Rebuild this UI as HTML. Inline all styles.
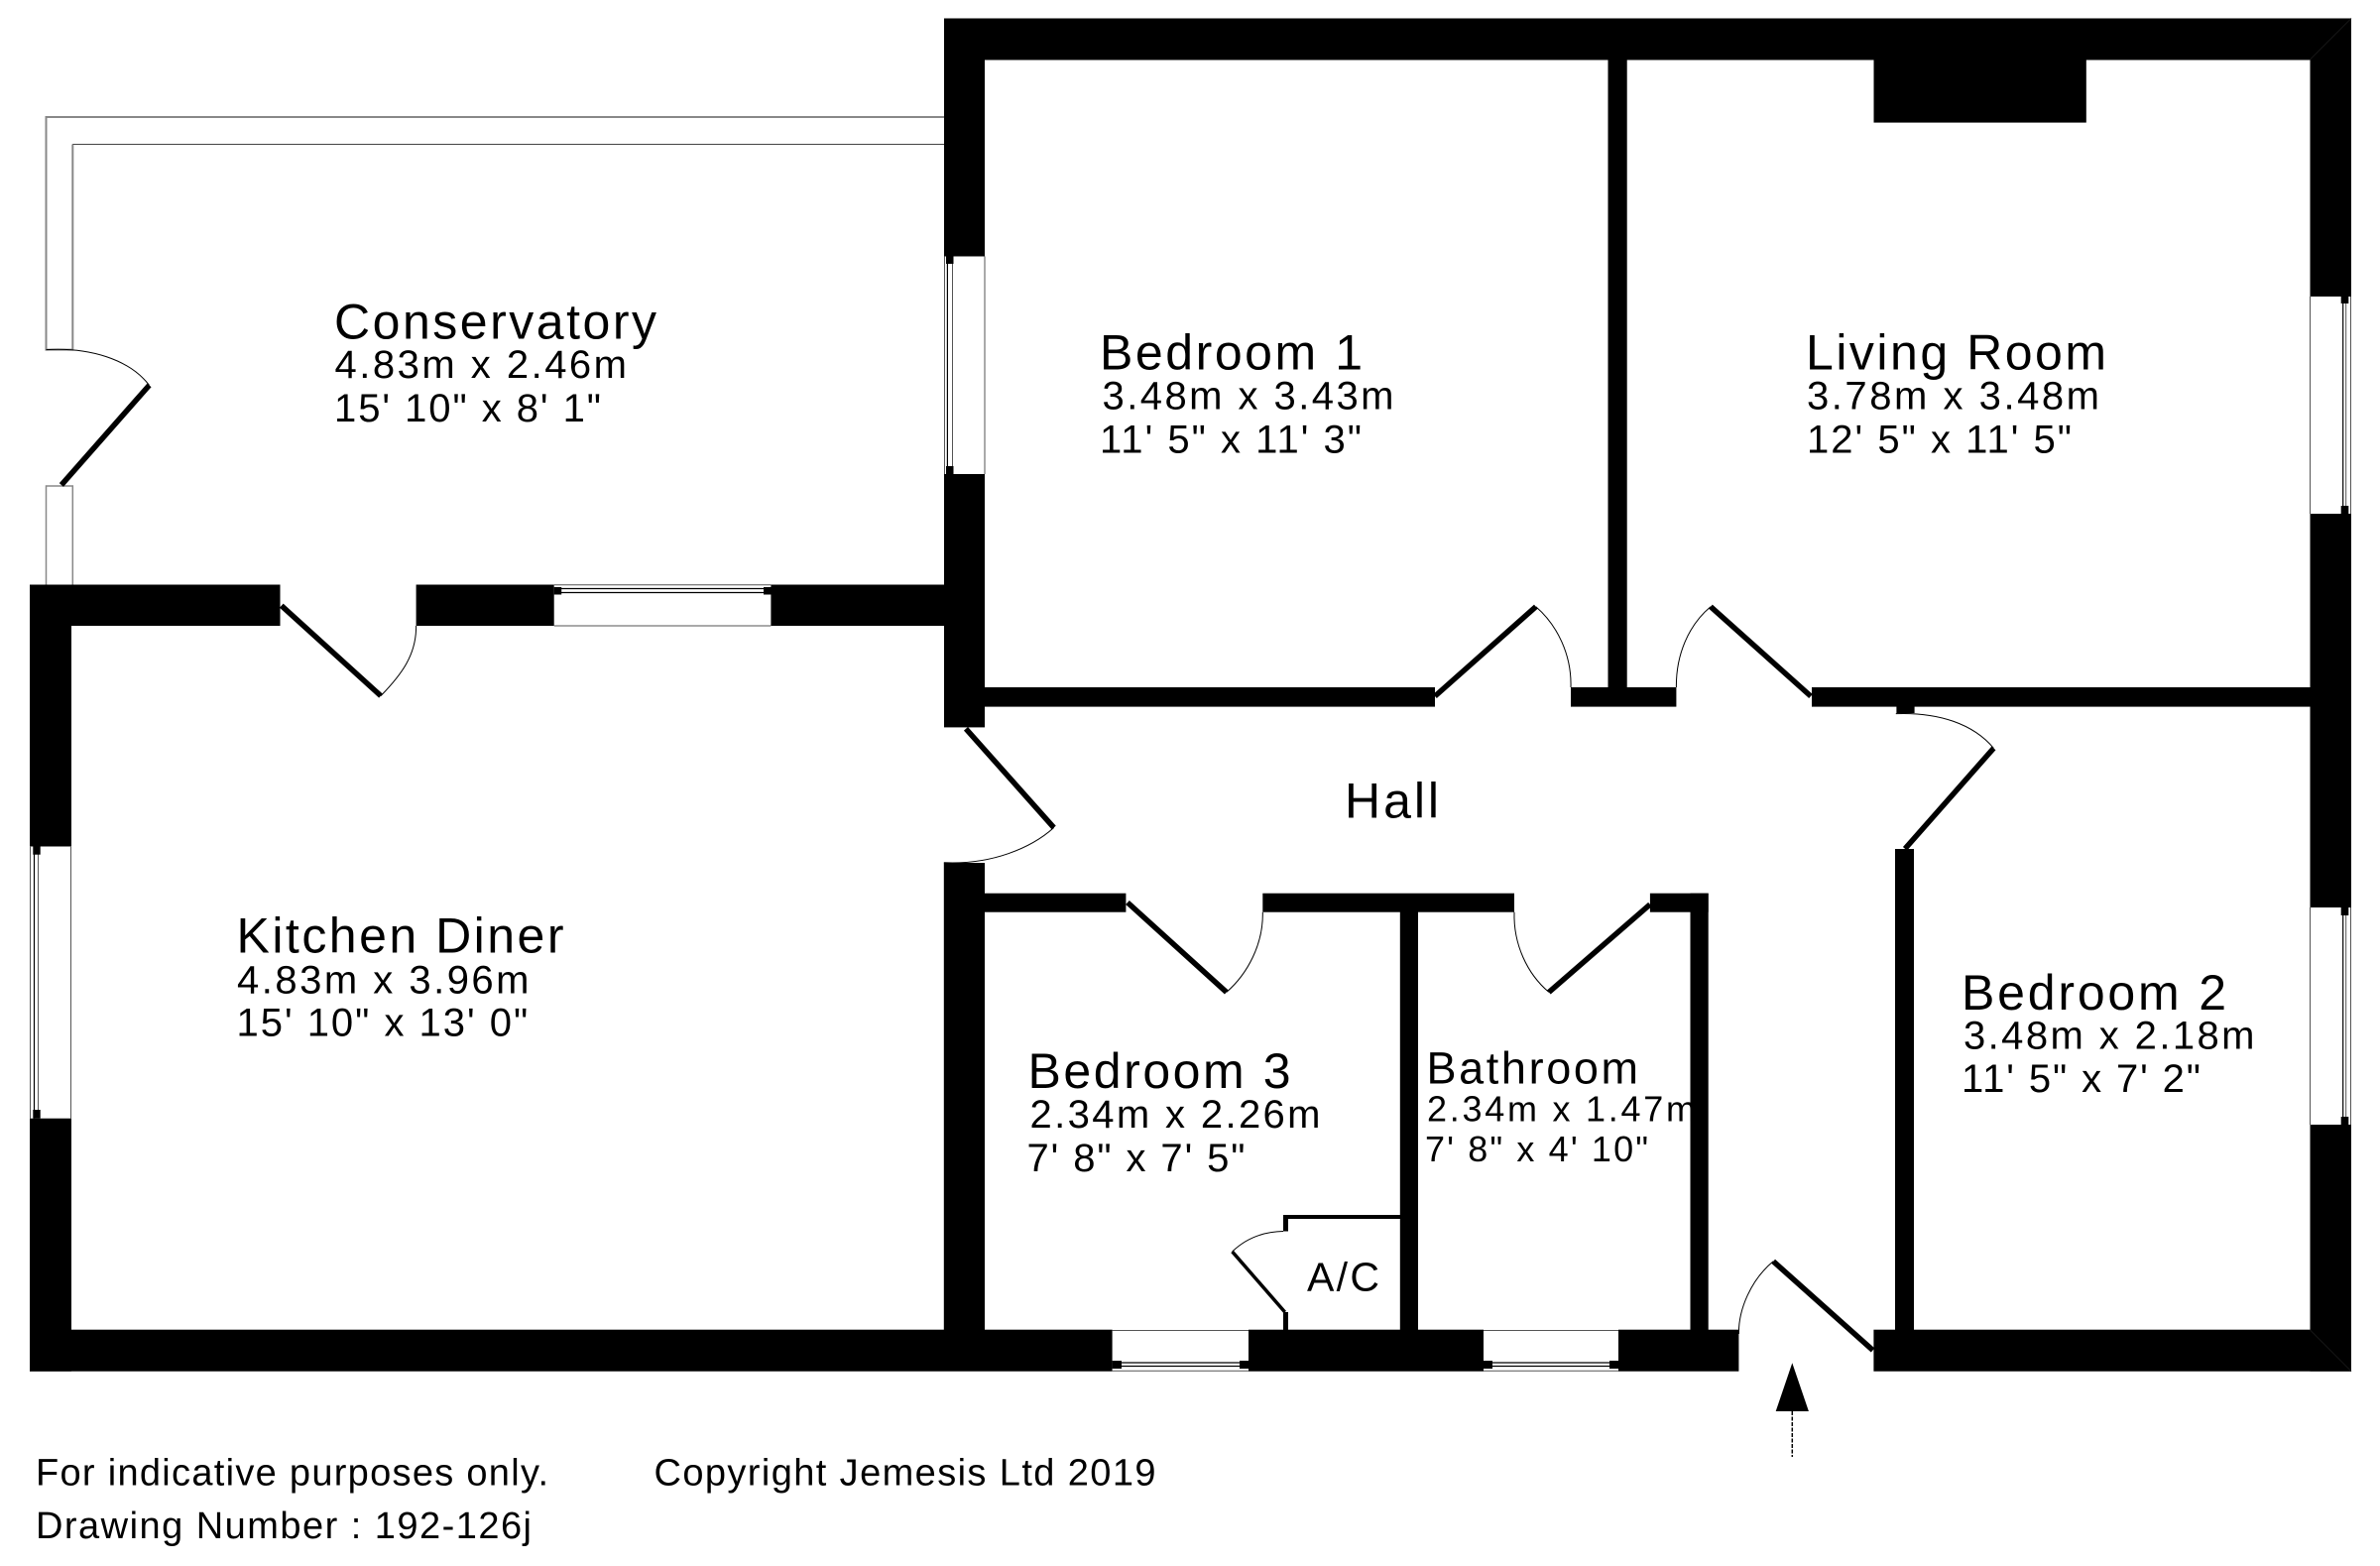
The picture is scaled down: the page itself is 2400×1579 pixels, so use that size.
<!DOCTYPE html>
<html lang="en"><head><meta charset="utf-8"><title>Floor plan</title>
<style>html,body{margin:0;padding:0;background:#fff}svg{display:block}
text{font-family:"Liberation Sans",Arial,sans-serif;fill:#000}
.t{font-size:50px}.d{font-size:40px}.bt{font-size:45px}.bd{font-size:36px}.f{font-size:38px}
.leaf{stroke:#000;stroke-width:5.5;fill:none}.arc{stroke:#000;stroke-width:1;fill:none}
.g{stroke:#888;stroke-width:1.5;fill:none}.k{stroke:#444;stroke-width:1;fill:none}
.w{stroke:#555;stroke-width:1;fill:none}.wd{stroke:#000;stroke-width:1.2;fill:none}</style></head>
<body>
<svg xmlns="http://www.w3.org/2000/svg" width="2400" height="1579" viewBox="0 0 2400 1579">
<rect width="2400" height="1579" fill="#fff"/>
<!-- conservatory -->
<path class="g" style="stroke-width:2" d="M952 118H46.5V352.6H73.3V145.5"/>
<path class="k" d="M73.3 145.5H952"/>
<path class="g" d="M46.5 589.5V490H73.3V589.5"/>
<g fill="#000">
<rect x="952" y="18.5" width="1419" height="42"/>
<rect x="952" y="18.5" width="41" height="240"/>
<rect x="952" y="478" width="41" height="255.4"/>
<rect x="2329.5" y="18.5" width="41.5" height="280.5"/>
<rect x="2329.5" y="518" width="41.5" height="397"/>
<rect x="2329.5" y="1134" width="41.5" height="248.7"/>
<rect x="1621.5" y="60" width="19.2" height="640"/>
<rect x="1889.5" y="60" width="214.3" height="63.6"/>
<rect x="993" y="693" width="454" height="19.6"/>
<rect x="1584" y="693" width="106.4" height="19.6"/>
<rect x="1827" y="693" width="503" height="19.6"/>
<rect x="1912.4" y="712" width="18.2" height="7"/>
<rect x="1911" y="856" width="19" height="490"/>
<rect x="30" y="589.5" width="252.5" height="41.5"/>
<rect x="419.6" y="589.5" width="139.1" height="41.5"/>
<rect x="777.4" y="589.5" width="175" height="41.5"/>
<rect x="30" y="589.5" width="42" height="264"/>
<rect x="30" y="1127.7" width="42" height="255"/>
<rect x="951.8" y="870" width="41.2" height="475"/>
<rect x="30" y="1340.7" width="1091.6" height="42"/>
<rect x="1259" y="1340.7" width="237" height="42"/>
<rect x="1632" y="1340.7" width="121.4" height="42"/>
<rect x="1889.4" y="1340.7" width="481.6" height="42"/>
<rect x="993" y="900.7" width="142.4" height="19"/>
<rect x="1273.3" y="900.7" width="253.7" height="19"/>
<rect x="1663.9" y="900.7" width="58.8" height="19"/>
<rect x="1704.5" y="900.7" width="18.2" height="445"/>
<rect x="1411.8" y="915" width="18.2" height="430"/>
<rect x="1294" y="1225" width="118" height="4"/>
<rect x="1294" y="1225" width="5" height="16.5"/>
<rect x="1294" y="1323" width="5" height="20"/>
</g>
<!-- faint mitre lines -->
<path d="M2329.5 1341L2371 1382.7M2329.5 60L2371 18.5" stroke="#161616" stroke-width="1" fill="none"/>
<!-- windows -->
<path class="w" d="M952.5 258.4V478M993 258.4V478M30.5 853V1127.7M71.5 853V1127.7"/>
<path class="wd" d="M955.4 258.4V478M34.5 853V1127.7M2362.7 299V518M2362.7 915V1134"/>
<path class="w" d="M960.5 258.4V478M38.5 853V1127.7M2365.7 299V518M2365.7 915V1134"/>
<path class="w" d="M2329.5 299V518M2370.5 299V518M2329.5 915V1134M2370.5 915V1134"/>
<path class="w" d="M558.7 589.8H777.4M558.7 631H777.4M1121.6 1341.5H1259M1121.6 1382.3H1259M1496 1341.5H1632M1496 1382.3H1632"/>
<path class="wd" d="M565 593.5H771M565 597.5H771M1130 1374H1251M1130 1377.5H1251M1504 1374H1624M1504 1377.5H1624"/>
<g fill="#000">
<rect x="954" y="258" width="7.5" height="8"/><rect x="954" y="470" width="7.5" height="8"/>
<rect x="2360.7" y="298" width="7.6" height="8"/><rect x="2360.7" y="510" width="7.6" height="8"/>
<rect x="2360.7" y="915" width="7.6" height="8"/><rect x="2360.7" y="1126" width="7.6" height="8"/>
<rect x="33.3" y="853" width="7.4" height="8.7"/><rect x="33.3" y="1119" width="7.4" height="8.7"/>
<rect x="558.7" y="592" width="7.5" height="7.5"/><rect x="770" y="592" width="7.5" height="7.5"/>
<rect x="1121.6" y="1372" width="9.4" height="8"/><rect x="1250" y="1372" width="9" height="8"/>
<rect x="1496" y="1372" width="9" height="8"/><rect x="1623" y="1372" width="9" height="8"/>
</g>
<!-- doors -->
<path class="leaf" d="M150.5 388.4L61.9 489"/>
<path class="arc" d="M46.5 352.6C90 350 130 362 150.5 388.4"/>
<path class="leaf" d="M283.8 610.7L384 701.6"/>
<path class="arc" d="M384 701.6C405 680 420 660 419.6 631"/>
<path class="leaf" d="M974 734.8L1062.7 834.5"/>
<path class="arc" d="M1062.7 834.5C1040 855 1000 872 951.8 869.8"/>
<path class="leaf" d="M1447 702L1548.8 611.7"/>
<path class="arc" d="M1548.8 611.7C1570 630 1585 660 1584 693"/>
<path class="leaf" d="M1826 702L1725 611.7"/>
<path class="arc" d="M1725 611.7C1703 630 1690 660 1690.4 693"/>
<path class="leaf" d="M2010.4 754.4L1921 855.8"/>
<path class="arc" d="M1911.8 719.6C1955 718 1990 730 2010.4 754.4"/>
<path class="leaf" d="M1137 910L1236.8 1000.4"/>
<path class="arc" d="M1236.8 1000.4C1258 982 1274 952 1273.3 919.7"/>
<path class="leaf" d="M1663.9 911.9L1561.9 1000.4"/>
<path class="arc" d="M1561.9 1000.4C1540 982 1526 952 1527 919.7"/>
<path class="leaf" style="stroke-width:3.5" d="M1242.6 1262L1295.7 1323"/>
<path class="arc" d="M1242.6 1262C1255 1250 1272 1242 1294 1241.5"/>
<path class="leaf" d="M1888.6 1361.4L1788.2 1271.8"/>
<path class="arc" d="M1788.2 1271.8C1766 1290 1753 1320 1753.4 1345"/>
<!-- entry arrow -->
<path d="M1807.3 1374.3L1823.9 1423H1790.7Z" fill="#000"/>
<path d="M1807.3 1423V1469" stroke="#000" stroke-width="1.5" stroke-dasharray="4 1.5" fill="none"/>
<!-- labels -->
<text class="t" x="337" y="341.7" textLength="325">Conservatory</text>
<text class="d" x="337.5" y="381" textLength="294.5">4.83m x 2.46m</text>
<text class="d" x="337" y="425" textLength="269">15' 10" x 8' 1"</text>
<text class="t" x="1109" y="372.5" textLength="265">Bedroom 1</text>
<text class="d" x="1111.5" y="412.5" textLength="294">3.48m x 3.43m</text>
<text class="d" x="1109" y="456.5" textLength="264">11' 5" x 11' 3"</text>
<text class="t" x="1821" y="372.5" textLength="303">Living Room</text>
<text class="d" x="1822" y="412.5" textLength="295">3.78m x 3.48m</text>
<text class="d" x="1822" y="456.5" textLength="267">12' 5" x 11' 5"</text>
<text class="t" x="1356" y="824.5" textLength="95">Hall</text>
<text class="t" x="238.5" y="960.5" textLength="330">Kitchen Diner</text>
<text class="d" x="239" y="1001.5" textLength="294.5">4.83m x 3.96m</text>
<text class="d" x="238.5" y="1044.5" textLength="293.7">15' 10" x 13' 0"</text>
<text class="t" x="1036.5" y="1097" textLength="265">Bedroom 3</text>
<text class="d" x="1038.5" y="1137" textLength="293">2.34m x 2.26m</text>
<text class="d" x="1035.5" y="1181" textLength="220">7' 8" x 7' 5"</text>
<text class="bt" x="1438.5" y="1092.5" textLength="213.5">Bathroom</text>
<text class="bd" x="1439" y="1130.5" textLength="271">2.34m x 1.47m</text>
<text class="bd" x="1437" y="1171" textLength="225">7' 8" x 4' 10"</text>
<text class="t" x="1978" y="1018" textLength="267">Bedroom 2</text>
<text class="d" x="1980" y="1057.5" textLength="293.5">3.48m x 2.18m</text>
<text class="d" x="1978" y="1101" textLength="241">11' 5" x 7' 2"</text>
<text style="font-size:41px" x="1318" y="1301.5" textLength="73">A/C</text>
<text class="f" x="36" y="1497.5" textLength="517">For indicative purposes only.</text>
<text class="f" x="659.5" y="1497.5" textLength="506">Copyright Jemesis Ltd 2019</text>
<text class="f" x="36" y="1551" textLength="500">Drawing Number : 192-126j</text>
</svg>
</body></html>
